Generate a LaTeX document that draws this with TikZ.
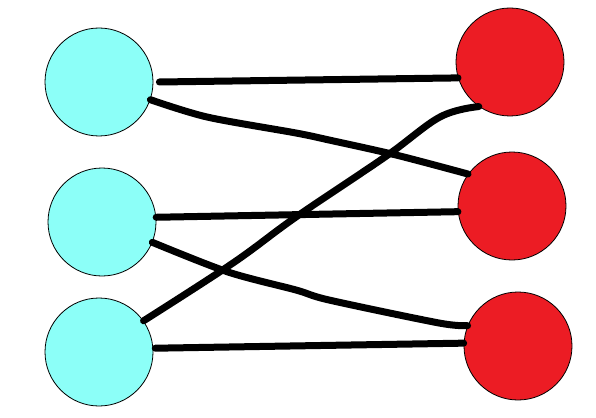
\documentclass[tikz,border=0pt]{standalone}
\definecolor{lcyan}{HTML}{8CFFF8}
\definecolor{rred}{HTML}{EC1C24}
\tikzset{
  lnode/.style={circle,draw=black,line width=0.8pt,fill=lcyan,minimum size=108pt,inner sep=0pt},
  rnode/.style={circle,draw=black,line width=0.8pt,fill=rred,minimum size=108pt,inner sep=0pt},
  edge/.style={line width=7pt,line cap=round,line join=round,black}
}
\begin{document}
\begin{tikzpicture}[x=1pt,y=-1pt]
\useasboundingbox (0,0) rectangle (596,417);
\node[lnode] (l1) at (99,82) {};
\node[lnode] (l2) at (102,222) {};
\node[lnode] (l3) at (99,352) {};
\node[rnode] (r1) at (510,62) {};
\node[rnode] (r2) at (512,206) {};
\node[rnode] (r3) at (518,346) {};
\draw[edge] ([xshift=6pt]l1.east) -- (r1.197);
\draw[edge] plot[smooth,tension=0.5] coordinates {(l1.-19) (207,117) (296,133) (329,140) (396,155) (r2.144)};
\draw[edge] (l2.5) -- (r2.186);
\draw[edge] plot[smooth,tension=0.5] coordinates {(l2.-22) (228,272) (296,290) (329,300) (439,323) (r3.158)};
\draw[edge] plot[smooth,tension=0.6] coordinates {(l3.35) (233,263) (296,217) (385,157) (440,117) (r1.235)};
\draw[edge] ([xshift=2pt]l3.4) -- (r3.177);
\end{tikzpicture}
\end{document}
